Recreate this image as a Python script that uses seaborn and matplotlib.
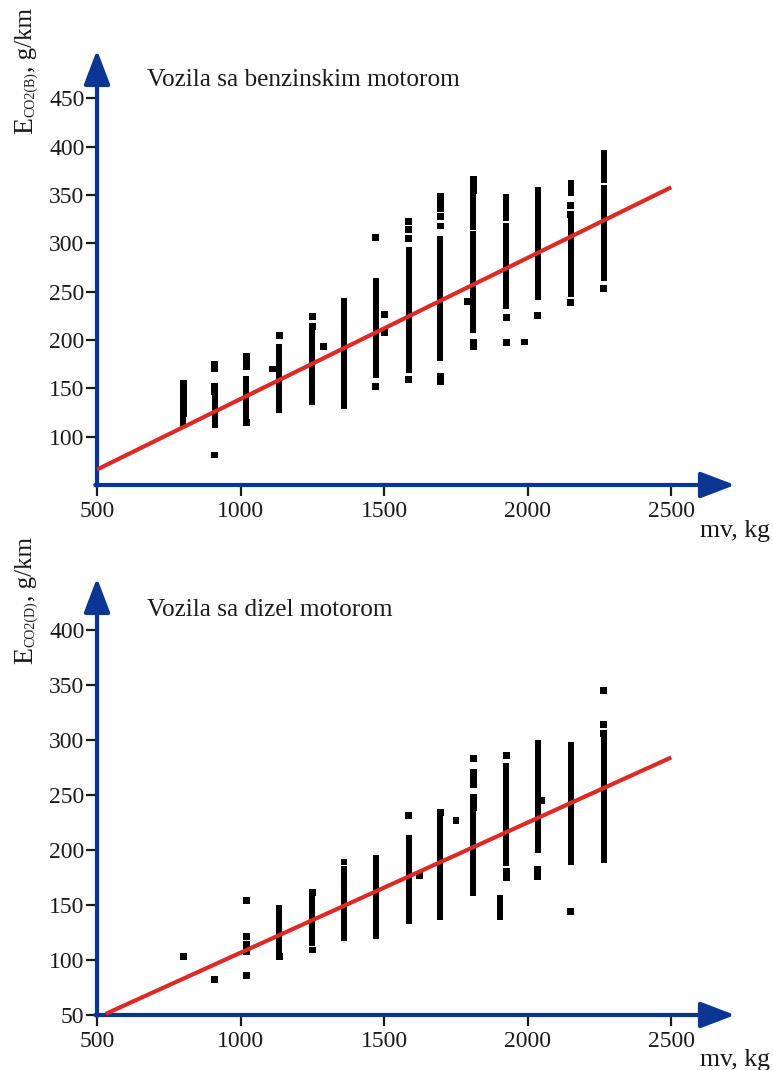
import matplotlib
matplotlib.use("Agg")
import matplotlib.pyplot as plt
import pandas as pd
import seaborn as sns

# ---- Petrol vehicles: CO2 emission vs. vehicle mass ----
petrol_run_x = [800, 910, 1020, 1135, 1250, 1360, 1470, 1585, 1695,
                1810, 1810, 1925, 1925, 2035, 2150, 2150, 2265, 2265]
petrol_run_lo = [112, 112, 121, 128, 136, 141, 164, 169, 181,
                 317, 210, 326, 235, 245, 352, 248, 366, 264]
petrol_run_hi = [120, 141, 160, 193, 209, 240, 261, 293, 305,
                 348, 310, 348, 318, 355, 362, 323, 393, 357]
petrol_pt_x = [800, 800, 800, 800, 800, 800,
               910, 910, 910, 910, 910,
               1020, 1020, 1020, 1020,
               1135, 1110,
               1250, 1250, 1290,
               1360, 1360,
               1470, 1470, 1500, 1500,
               1585, 1585, 1585, 1585,
               1695, 1695, 1695, 1695, 1695, 1695, 1695,
               1810, 1810, 1810, 1810, 1810, 1790,
               1925, 1925, 1990,
               2035,
               2150, 2150, 2150,
               2265]
petrol_pt_y = [155, 149, 142, 135, 130, 124,
               175, 170, 152, 147, 81,
               183, 178, 172, 115,
               205, 170,
               224, 214, 193,
               137, 132,
               306, 152, 226, 208,
               323, 314, 305, 159,
               349, 343, 336, 328, 318, 162, 157,
               366, 360, 355, 198, 193, 240,
               223, 197, 198,
               225,
               339, 330, 239,
               253]
petrol_fit_x = [500, 2500]
petrol_fit_y = [66, 358]

# ---- Diesel vehicles ----
diesel_run_x = [1135, 1250, 1360, 1470, 1585, 1695, 1810, 1905,
                1925, 2035, 2150, 2265]
diesel_run_lo = [108, 115, 120, 122, 135, 139, 161, 139, 188, 200, 189, 191]
diesel_run_hi = [147, 155, 165, 193, 211, 230, 233, 156, 276, 297, 295, 300]
diesel_pt_x = [800, 910,
               1020, 1020, 1020, 1020, 1020,
               1135,
               1250, 1250,
               1360, 1360, 1360, 1360,
               1585, 1623,
               1695, 1750,
               1810, 1810, 1810, 1810, 1810, 1810, 1810,
               1925, 1925, 1925,
               2035, 2035, 2047,
               2150,
               2265, 2265, 2265]
diesel_pt_y = [103, 82,
               154, 121, 114, 108, 86,
               103,
               161, 109,
               189, 182, 176, 170,
               231, 177,
               234, 227,
               283, 270, 265, 259, 248, 243, 238,
               286, 180, 175,
               182, 176, 245,
               144,
               345, 314, 306]
diesel_fit_x = [530, 2500]
diesel_fit_y = [51, 284]

x_ticks = [500, 1000, 1500, 2000, 2500]
petrol_y_ticks = [100, 150, 200, 250, 300, 350, 400, 450]
diesel_y_ticks = [50, 100, 150, 200, 250, 300, 350, 400]

BLUE = "#0b3592"
RED = "#dc2b27"
INK = "#1a1a1a"

sns.set_theme(style="white")
plt.rcParams["font.family"] = ["Liberation Serif", "DejaVu Serif"]

W, H = 773, 1070
fig = plt.figure(figsize=(W / 100, H / 100), dpi=100)
renderer = fig.canvas.get_renderer()


def vertical_label(x_base, y_bottom, parts):
    """Rotated label built from pieces of different sizes, bottom to top."""
    y = y_bottom
    for text, size, dx in parts:
        t = fig.text((x_base + dx) / W, 1 - y / H, text, fontsize=size,
                     rotation=90, rotation_mode="anchor", ha="left",
                     va="baseline", color=INK)
        bb = t.get_window_extent(renderer)
        y -= bb.height


def panel(rect, run_x, run_lo, run_hi, pt_x, pt_y, fit_x, fit_y,
          ylim, yticks, title, sub, title_y, lab_y, unit_y):
    ax = fig.add_axes(rect)
    ax.set_xlim(500, 2722)
    ax.set_ylim(*ylim)

    # dense groups of measurements drawn as solid vertical runs
    ax.vlines(run_x, run_lo, run_hi, colors="black", linewidth=4.3,
              capstyle="projecting", zorder=3)
    pts = pd.DataFrame({"mv": pt_x, "E": pt_y})
    sns.scatterplot(data=pts, x="mv", y="E", ax=ax, marker="s", s=24,
                    color="black", edgecolor="none", linewidth=0, zorder=3)

    fit = pd.DataFrame({"mv": fit_x, "E": fit_y})
    sns.lineplot(data=fit, x="mv", y="E", ax=ax, color=RED, linewidth=3.0,
                 zorder=4, solid_capstyle="butt")

    for s in ax.spines.values():
        s.set_visible(False)
    ax.set_xticks(x_ticks)
    ax.set_yticks(yticks)
    ax.set_xlabel("")
    ax.set_ylabel("")
    ax.tick_params(axis="both", which="major", bottom=True, left=True,
                   direction="out", length=8, width=1.6, color=INK,
                   labelsize=17, labelcolor=INK)
    ax.tick_params(axis="x", pad=3.5)
    ax.tick_params(axis="y", pad=1)
    ax.grid(False)
    ax.set_facecolor("none")

    x0, y0 = 500, ylim[0]
    arrow = dict(arrowstyle="-|>,head_length=1.05,head_width=0.4",
                 color=BLUE, lw=3.0, shrinkA=0, shrinkB=0, mutation_scale=20)
    ax.annotate("", xy=(2722, y0), xytext=(x0 - 6, y0), arrowprops=arrow,
                annotation_clip=False, zorder=2)
    ax.annotate("", xy=(x0, ylim[1]), xytext=(x0, y0 - 1), arrowprops=arrow,
                annotation_clip=False, zorder=2)

    fig.text(147 / W, 1 - title_y / H, title, fontsize=18.2, color=INK,
             ha="left", va="baseline")
    vertical_label(32, lab_y, [("E", 20, 0), (sub, 10, 2.5), (", g/km", 18, 0)])
    fig.text(770 / W, 1 - unit_y / H, "mv, kg", fontsize=18.5,
             ha="right", va="baseline", color=INK)
    return ax


panel([97 / W, 1 - 485 / H, 638 / W, 435 / H],
      petrol_run_x, petrol_run_lo, petrol_run_hi, petrol_pt_x, petrol_pt_y,
      petrol_fit_x, petrol_fit_y, (50, 500), petrol_y_ticks,
      "Vozila sa benzinskim motorom", "CO2(B)", 86, 134, 537)

panel([97 / W, 1 - 1015 / H, 638 / W, 437 / H],
      diesel_run_x, diesel_run_lo, diesel_run_hi, diesel_pt_x, diesel_pt_y,
      diesel_fit_x, diesel_fit_y, (50, 447), diesel_y_ticks,
      "Vozila sa dizel motorom", "CO2(D)", 616, 664, 1066)

fig.savefig("out.png", dpi=100)
